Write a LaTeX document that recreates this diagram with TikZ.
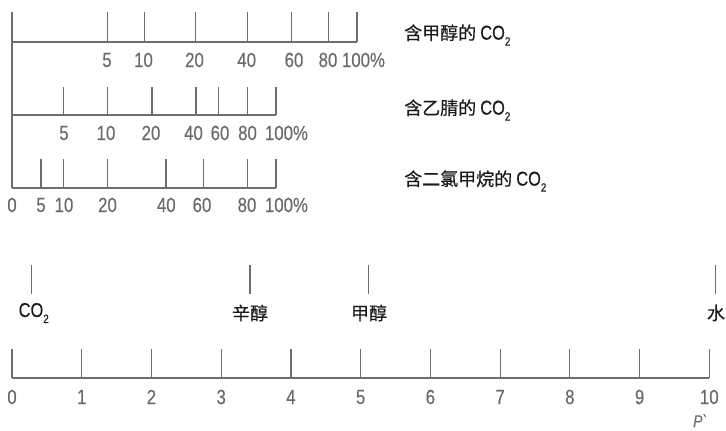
\documentclass[tikz,border=0pt]{standalone}
\usepackage{fontspec}
\setmainfont{Liberation Sans}[FakeStretch=0.82,FakeBold=0.3]
\newfontfamily\cjk{Noto Sans CJK SC}[FakeBold=0.4]
\definecolor{axisgray}{HTML}{6E6E6E}
\definecolor{numgray}{HTML}{6A6A6A}
\definecolor{ink}{HTML}{1A1A1A}
\newcommand{\cotwo}{{\fontsize{20}{20}\selectfont CO}\raisebox{-6pt}{\fontsize{12}{12}\selectfont 2}}
\tikzset{
  scaleline/.style={draw=axisgray, line width=1.2pt},
  tickline/.style={draw=axisgray, line width=1.2pt},
  num/.style={text=numgray, font=\fontsize{20.5}{21}\selectfont, inner sep=0pt, anchor=center},
  lab/.style={text=ink, font=\fontsize{18}{20}\selectfont, inner sep=0pt},
  pvar/.style={text=numgray, font=\fontsize{17}{18}\selectfont\itshape, inner sep=0pt},
}
\begin{document}
\begin{tikzpicture}[x=1pt,y=-1pt]
\useasboundingbox (0,0) rectangle (726,431);
% left spine
\coordinate (sT) at (12,12);
\coordinate (sB) at (12,188);
\draw[scaleline] (sT) -- (sB);
% scale A (methanol)
\coordinate (aL) at (12,42);
\coordinate (aR) at (357,42);
\draw[scaleline] (aL) -- (aR);
\foreach \x [count=\i] in {107.3,144.3,195.7,247.3,291.7,328.3,357}{
  \coordinate (aTt\i) at (\x,12);
  \coordinate (aTb\i) at (\x,42);
  \draw[tickline] (aTt\i) -- (aTb\i);
}
\foreach \x/\t [count=\i] in {107/5,143.5/10,194.5/20,246.7/40,294/60,328/80,356/100\rlap{\%}}{
  \node[num] (aN\i) at (\x,60) {\t};
}
% scale B (acetonitrile)
\coordinate (bL) at (12,115);
\coordinate (bR) at (276,115);
\draw[scaleline] (bL) -- (bR);
\foreach \x [count=\i] in {63.3,107.3,152,196,218.3,247.3,276}{
  \coordinate (bTt\i) at (\x,87);
  \coordinate (bTb\i) at (\x,115);
  \draw[tickline] (bTt\i) -- (bTb\i);
}
\foreach \x/\t [count=\i] in {64/5,106/10,151/20,193.5/40,220/60,247.5/80,279/100\rlap{\%}}{
  \node[num] (bN\i) at (\x,133) {\t};
}
% scale C (dichloromethane)
\coordinate (cL) at (12,188);
\coordinate (cR) at (276,188);
\draw[scaleline] (cL) -- (cR);
\foreach \x [count=\i] in {41,63.3,107.3,166,203.3,247.3,276}{
  \coordinate (cTt\i) at (\x,159);
  \coordinate (cTb\i) at (\x,188);
  \draw[tickline] (cTt\i) -- (cTb\i);
}
\foreach \x/\t [count=\i] in {41/5,64/10,107.5/20,166.3/40,202/60,247/80,279/100\rlap{\%}}{
  \node[num] (cN\i) at (\x,205) {\t};
}
\node[num] (cN0) at (12,205) {0};
% right labels
\node[lab, anchor=west] (labA) at (404,35) {{\cjk 含甲醇的} \cotwo};
\node[lab, anchor=west] (labB) at (404,110) {{\cjk 含乙腈的} \cotwo};
\node[lab, anchor=west] (labC) at (404,181) {{\cjk 含二氯甲烷的} \cotwo};
% substances
\foreach \x/\n in {31.7/co,250/oct,368.3/meth,715.7/wat}{
  \coordinate (\n t) at (\x,265);
  \coordinate (\n b) at (\x,294);
  \draw[tickline] (\n t) -- (\n b);
}
\node[lab, anchor=west] (sCO) at (18.5,313) {\cotwo};
\node[lab] (sOct) at (250,313) {\cjk 辛醇};
\node[lab] (sMeth) at (369,313) {\cjk 甲醇};
\node[lab] (sWat) at (716,313) {\cjk 水};
% polarity scale
\coordinate (pL) at (12,378);
\coordinate (pR) at (709.3,378);
\draw[scaleline] (pL) -- (pR);
\foreach \i in {0,...,10}{
  \coordinate (pTt\i) at ({12+69.73*\i},349);
  \coordinate (pTb\i) at ({12+69.73*\i},378);
  \draw[tickline] (pTt\i) -- (pTb\i);
  \node[num] (pN\i) at ({12+69.73*\i},397) {\i};
}
\node[pvar, anchor=base west] (pv) at (693,427) {P\textasciigrave};
\end{tikzpicture}
\end{document}
